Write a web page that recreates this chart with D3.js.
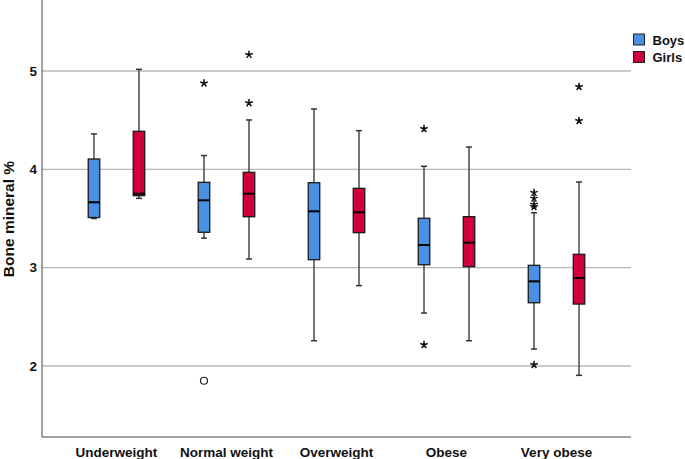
<!DOCTYPE html>
<html>
<head>
<meta charset="utf-8">
<script src="https://cdn.jsdelivr.net/npm/d3@7"></script>
<style>
  body { margin: 0; background: #fff; }
  text { font-family: "Liberation Sans", Arial, sans-serif; font-weight: bold; fill: #111; }
</style>
</head>
<body>
<script>
// categories and groups
const categories = ['Underweight', 'Normal weight', 'Overweight', 'Obese', 'Very obese'];
const sexes = ['Boys', 'Girls'];
const colors = ['#4a90e2', '#d2003a'];

// [whisker low, q1, median, q3, whisker high] per category
const boys = [
  [3.50, 3.51, 3.665, 4.105, 4.36],
  [3.30, 3.36, 3.685, 3.868, 4.14],
  [2.257, 3.081, 3.573, 3.864, 4.614],
  [2.539, 3.03, 3.23, 3.502, 4.031],
  [2.173, 2.643, 2.861, 3.024, 3.559]
];
const girls = [
  [3.705, 3.732, 3.752, 4.387, 5.017],
  [3.088, 3.518, 3.752, 3.97, 4.502],
  [2.817, 3.356, 3.563, 3.807, 4.393],
  [2.257, 3.01, 3.254, 3.519, 4.227],
  [1.905, 2.63, 2.895, 3.136, 3.871]
];

// outliers: [category index, sex index, value, kind]
const outliers = [
  [1, 0, 4.875, 'star'], [1, 0, 1.85, 'circle'],
  [1, 1, 5.166, 'star'], [1, 1, 4.675, 'star'],
  [3, 0, 4.413, 'star'], [3, 0, 2.216, 'star'],
  [4, 0, 3.763, 'star'], [4, 0, 3.705, 'star'], [4, 0, 3.644, 'star'],
  [4, 0, 3.62, 'star'], [4, 0, 2.013, 'star'],
  [4, 1, 4.84, 'star'], [4, 1, 4.494, 'star']
];
const yTicks = [2, 3, 4, 5];

const W = 685, H = 459;
const plotL = 42, plotR = 631, plotB = 437, plotT = 0;

const svg = d3.select('body').append('svg').attr('width', W).attr('height', H);

const x = d3.scaleBand().domain(categories).range([plotL, plotR]).paddingOuter(0.177).paddingInner(0);
const xs = d3.scalePoint().domain(sexes).range([0, x.bandwidth()]).padding(0.722);
const y = d3.scaleLinear().domain([1.278, 5.722]).range([plotB, plotT]);

const boxW = 11.5, capW = 6;
const cx = (ci, si) => x(categories[ci]) + xs(sexes[si]);

// grid lines
svg.append('g').selectAll('line').data(yTicks).enter().append('line')
  .attr('x1', plotL).attr('x2', plotR)
  .attr('y1', d => y(d)).attr('y2', d => y(d))
  .attr('stroke', '#b8b8b8').attr('stroke-width', 1.3);

// y tick labels
svg.append('g').selectAll('text').data(yTicks).enter().append('text')
  .attr('x', 37).attr('y', d => y(d) + 4.7)
  .attr('text-anchor', 'end').attr('font-size', 13.5)
  .text(d => d);

// axes lines
svg.append('line').attr('x1', plotL).attr('x2', plotL).attr('y1', plotT).attr('y2', plotB)
  .attr('stroke', '#444').attr('stroke-width', 1);
svg.append('line').attr('x1', plotL).attr('x2', plotR).attr('y1', plotB).attr('y2', plotB)
  .attr('stroke', '#444').attr('stroke-width', 1);

// x labels
svg.append('g').selectAll('text').data(categories).enter().append('text')
  .attr('x', d => x(d) + x.bandwidth() / 2).attr('y', 457)
  .attr('text-anchor', 'middle').attr('font-size', 13.5)
  .text(d => d);

// y title
svg.append('text')
  .attr('transform', 'translate(13.5,219) rotate(-90)')
  .attr('text-anchor', 'middle').attr('font-size', 15.5)
  .text('Bone mineral %');

// boxes
const boxData = [];
[boys, girls].forEach((arr, si) => arr.forEach((s, ci) => boxData.push({ ci, si, s })));

const g = svg.append('g').selectAll('g').data(boxData).enter().append('g');

g.append('line')
  .attr('x1', d => cx(d.ci, d.si)).attr('x2', d => cx(d.ci, d.si))
  .attr('y1', d => y(d.s[0])).attr('y2', d => y(d.s[4]))
  .attr('stroke', '#4a4a4a').attr('stroke-width', 1.5);
g.selectAll('.cap').data(d => [[d, 0], [d, 4]]).enter().append('line')
  .attr('x1', ([d]) => cx(d.ci, d.si) - capW / 2).attr('x2', ([d]) => cx(d.ci, d.si) + capW / 2)
  .attr('y1', ([d, k]) => y(d.s[k])).attr('y2', ([d, k]) => y(d.s[k]))
  .attr('stroke', '#333').attr('stroke-width', 1.5);
g.append('rect')
  .attr('x', d => cx(d.ci, d.si) - boxW / 2).attr('width', boxW)
  .attr('y', d => y(d.s[3])).attr('height', d => y(d.s[1]) - y(d.s[3]))
  .attr('fill', d => colors[d.si]).attr('stroke', '#1a1a1a').attr('stroke-width', 1.3);
g.append('line')
  .attr('x1', d => cx(d.ci, d.si) - boxW / 2).attr('x2', d => cx(d.ci, d.si) + boxW / 2)
  .attr('y1', d => y(d.s[2])).attr('y2', d => y(d.s[2]))
  .attr('stroke', '#000').attr('stroke-width', 2);

// outliers
const starPath = r => {
  let p = '';
  for (let k = 0; k < 5; k++) {
    const a = -Math.PI / 2 + k * 2 * Math.PI / 5;
    p += `M0,0L${(r * Math.cos(a)).toFixed(2)},${(r * Math.sin(a)).toFixed(2)}`;
  }
  return p;
};
const og = svg.append('g');
og.selectAll('path').data(outliers.filter(d => d[3] === 'star')).enter().append('path')
  .attr('transform', d => `translate(${cx(d[0], d[1])},${y(d[2])})`)
  .attr('d', starPath(4))
  .attr('stroke', '#111').attr('stroke-width', 1.5).attr('fill', 'none');
og.selectAll('circle').data(outliers.filter(d => d[3] === 'circle')).enter().append('circle')
  .attr('cx', d => cx(d[0], d[1])).attr('cy', d => y(d[2])).attr('r', 3.5)
  .attr('fill', 'none').attr('stroke', '#222').attr('stroke-width', 1.2);

// legend
const lg = svg.append('g').selectAll('g').data(sexes).enter().append('g')
  .attr('transform', (d, i) => `translate(633.5,${34 + i * 17.5})`);
lg.append('rect').attr('width', 11).attr('height', 11)
  .attr('fill', (d, i) => colors[i]).attr('stroke', '#222').attr('stroke-width', 1);
lg.append('text').attr('x', 19).attr('y', 10.5).attr('font-size', 13).text(d => d);
</script>
</body>
</html>
